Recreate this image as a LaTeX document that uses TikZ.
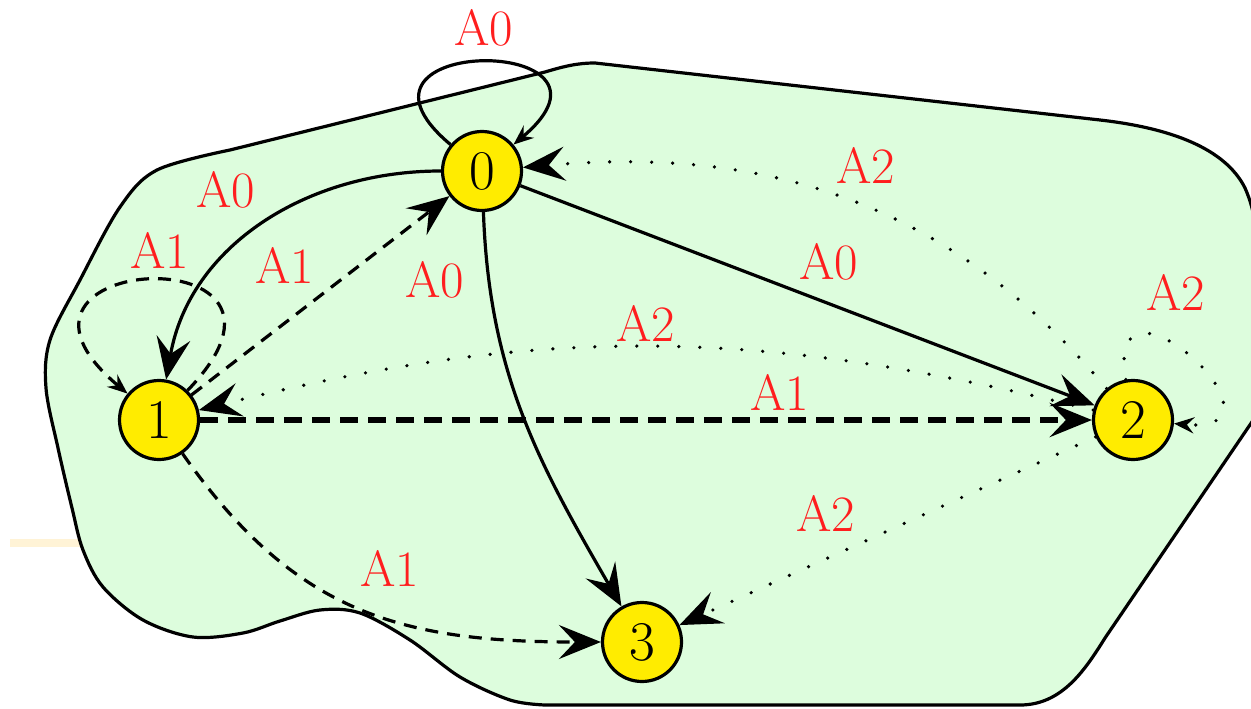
\documentclass[tikz,border=0pt]{standalone}
\usetikzlibrary{arrows.meta}
\definecolor{blobfill}{RGB}{221,253,221}
\definecolor{nodeyellow}{RGB}{255,236,0}
\definecolor{beigeline}{RGB}{255,243,214}
\definecolor{lblred}{RGB}{255,30,30}
\begin{document}
\begin{tikzpicture}[x=0.5pt,y=0.5pt,
  st/.style={circle,draw=black,line width=1.6pt,fill=nodeyellow,minimum size=39.5pt,inner sep=0pt,font=\fontsize{28}{32}\selectfont},
  lbl/.style={text=lblred,font=\fontsize{25.5}{30}\selectfont,inner sep=0pt},
  bigtip/.style={-{Stealth[length=21pt,width=17pt,inset=8pt]}},
  smalltip/.style={-{Stealth[length=10pt,width=8pt,inset=3.5pt]}},
  solidedge/.style={line width=1.6pt},
  dashedge/.style={line width=1.6pt,dash pattern=on 6.5pt off 4.5pt},
  thickdash/.style={line width=3pt,dash pattern=on 9pt off 5pt},
  dotedge/.style={line width=1.8pt,line cap=round,dash pattern=on 0pt off 10.5pt},
  blob/.style={draw=black,line width=1.6pt,fill=blobfill,line join=round}
]
\useasboundingbox (0,0) rectangle (1251,708);
% faint line at left
\draw[beigeline,line width=4pt] (10,165) -- (90,165);
% region
\draw[blob] (595,645) -- (1100,588) .. controls (1170,580) and (1225,560) .. (1245,520)
  .. controls (1256,495) and (1258,470) .. (1258,440) -- (1258,295) -- (1105,70)
  .. controls (1085,38) and (1062,3) .. (1020,3) -- (545,3)
  -- plot[smooth,tension=0.55] coordinates {(545,3) (510,8) (460,31) (410,68) (360,95) (320,98) (280,87) (243,75) (193,71) (143,88) (103,121) (83,158) (72,200) (58,260) (46,320) (50,368) (80,428) (120,501) (157,538) (230,558)}
  -- (545,636) .. controls (565,642) and (578,645) .. (595,645) -- cycle;
% states
\node[st] (n0) at (482,537) {0};
\node[st] (n1) at (159,288) {1};
\node[st] (n2) at (1133,288) {2};
\node[st] (n3) at (642,66) {3};
% edges
\draw[solidedge,smalltip] (n0) to[out=140,in=40,distance=86pt] (n0);
\draw[solidedge,bigtip] (n0) to[out=180,in=80] (n1);
\draw[solidedge,bigtip] (n0) -- (n2);
\draw[solidedge,bigtip] (n0) to[out=-88,in=120] (n3);
\draw[dashedge,smalltip] (n1) to[out=46,in=140,distance=110pt] (n1);
\draw[dashedge,bigtip] (n1) -- (n0);
\draw[thickdash,bigtip] (n1) -- (n2);
\draw[dashedge,bigtip] (n1) to[out=-55,in=180,looseness=1.1] (n3);
\draw[dotedge,bigtip] (n2) to[out=130,in=5] (n0);
\draw[dotedge,bigtip] (n2) to[bend right=14] (n1);
\draw[dotedge,smalltip] (n2) to[out=100,in=-5,distance=66pt] (n2);
\draw[dotedge,bigtip] (n2) -- (n3);
% labels
\node[lbl] (l00) at (484,680) {A0};
\node[lbl] (l01) at (226,518) {A0};
\node[lbl] (l11) at (160,458) {A1};
\node[lbl] (l10) at (285,443) {A1};
\node[lbl] (l03) at (435,428) {A0};
\node[lbl] (l02) at (829,446) {A0};
\node[lbl] (l20) at (866,543) {A2};
\node[lbl] (l21) at (646,385) {A2};
\node[lbl] (l12) at (780,316) {A1};
\node[lbl] (l22) at (1176,416) {A2};
\node[lbl] (l23) at (826,195) {A2};
\node[lbl] (l13) at (390,140) {A1};
\end{tikzpicture}
\end{document}
